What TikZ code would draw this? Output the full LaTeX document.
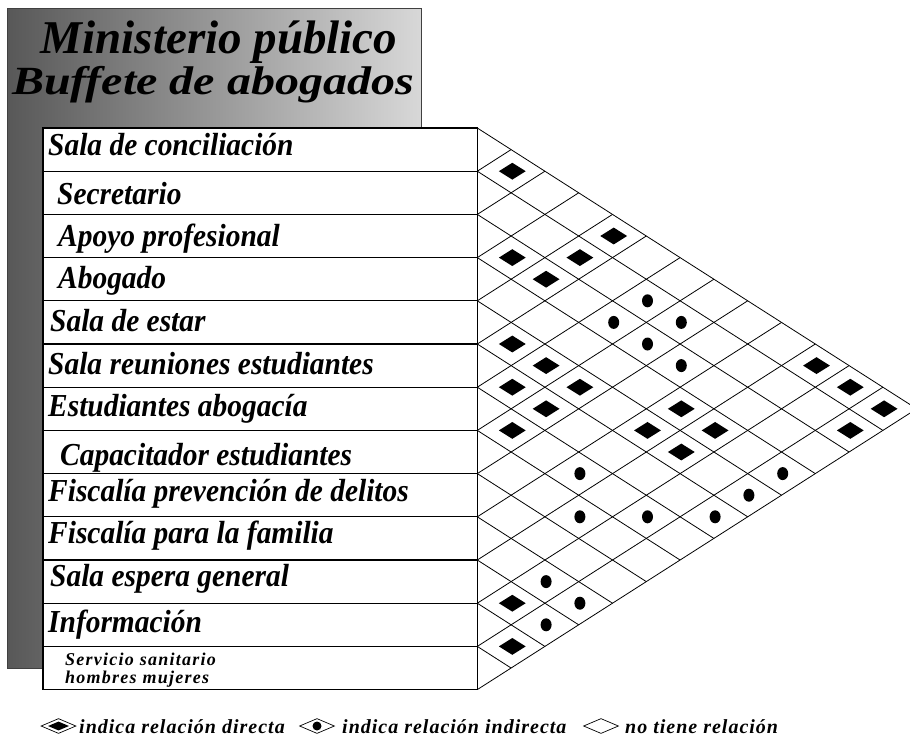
\documentclass[tikz,border=0pt]{standalone}
\usepackage{fontspec}
\usepackage{graphicx}
\setmainfont{Liberation Serif}
\newfontfamily\smallfam[LetterSpace=7]{Liberation Serif}
\newfontfamily\legfam[LetterSpace=5]{Liberation Serif}
\usetikzlibrary{shapes.geometric}
\newcommand{\rowfont}{\bfseries\itshape\fontsize{32}{34}\selectfont}
\newcommand{\titfont}{\bfseries\itshape\fontsize{47}{50}\selectfont}
\newcommand{\titfontb}{\bfseries\itshape\fontsize{40}{44}\selectfont}
\newcommand{\smfont}{\smallfam\bfseries\itshape\fontsize{18}{18}\selectfont}
\newcommand{\legfont}{\legfam\bfseries\itshape\fontsize{20}{22}\selectfont}
\newcommand{\rl}[1]{\scalebox{0.92}[1]{#1}}
\definecolor{gdark}{HTML}{585858}
\definecolor{glight}{HTML}{D8D8D8}
\begin{document}
\begin{tikzpicture}[x=1pt,y=-1pt,
  gridline/.style={line width=0.8pt,black},
  rowbox/.style={draw=black,line width=1.2pt,fill=white,minimum width=434.3pt,minimum height=43.2pt,inner sep=0pt},
  lbl/.style={anchor=base west,inner sep=0pt,font=\rowfont},
  dmark/.style={diamond,fill=black,minimum width=27pt,minimum height=17pt,inner sep=0pt},
  imark/.style={ellipse,fill=black,minimum width=11pt,minimum height=13pt,inner sep=0pt},
  legout/.style={diamond,draw=black,line width=0.7pt,minimum width=35pt,minimum height=15pt,inner sep=0pt},
  legin/.style={diamond,fill=black,minimum width=21pt,minimum height=9pt,inner sep=0pt},
  legdot/.style={circle,fill=black,minimum size=9pt,inner sep=0pt},
  legtxt/.style={anchor=base west,inner sep=0pt,font=\legfont}
]
\useasboundingbox (0,0) rectangle (910,740);
% title box
\shade[left color=gdark,right color=glight] (7.5,8.5) rectangle (421,668);
\draw[draw=black!75,line width=1pt] (7.5,8.5) rectangle (421,668);
\node[anchor=base,inner sep=0pt,font=\titfont] (t1) at (219,53) {Ministerio público};
\node[anchor=base,inner sep=0pt,font=\titfontb] (t2) at (213,94) {\scalebox{1.2}[1]{Buffete de abogados}};
% rows
\foreach \i in {0,...,12}{
  \node[rowbox] (r\i) at (260.15,{149.6+43.2*\i}) {};
}
\node[lbl] (l0) at (48,155) {\rl{Sala de conciliación}};
\node[lbl] (l1) at (57,204) {\rl{Secretario}};
\node[lbl] (l2) at (58,246) {\rl{Apoyo profesional}};
\node[lbl] (l3) at (58,288) {\rl{Abogado}};
\node[lbl] (l4) at (50,331) {\rl{Sala de estar}};
\node[lbl] (l5) at (48,374) {\rl{Sala reuniones estudiantes}};
\node[lbl] (l6) at (48,416) {\rl{Estudiantes abogacía}};
\node[lbl] (l7) at (60,465) {\rl{Capacitador estudiantes}};
\node[lbl] (l8) at (48,501) {\rl{Fiscalía prevención de delitos}};
\node[lbl] (l9) at (48,543) {\rl{Fiscalía para la familia}};
\node[lbl] (l10) at (50,586) {\rl{Sala espera general}};
\node[lbl] (l11) at (48,632) {\rl{Información}};
\node[anchor=base west,inner sep=0pt,font=\smfont] (l12a) at (65,665) {Servicio sanitario};
\node[anchor=base west,inner sep=0pt,font=\smfont] (l12b) at (65,683) {hombres mujeres};
% grid
\foreach \k in {0,...,13}{
  \coordinate (g\k) at (477.3,{128+43.2*\k});
  \draw[gridline] (g\k) -- ++({(13-\k)*33.8},{(13-\k)*21.6});
  \draw[gridline] (g\k) -- ++({\k*33.8},{-\k*21.6});
}
% direct relations
\foreach \i/\j in {0/1,0/4,2/3,1/4,2/4,4/5,4/6,5/6,4/7,5/7,6/7,3/9,4/9,3/10,4/10,0/10,0/11,0/12,1/12,10/11,11/12}{
  \node[dmark] (d\i-\j) at ({478.5+(\j-\i)*33.8},{149.6+(\i+\j)*21.6}) {};
}
% indirect relations
\foreach \i/\j in {1/6,2/6,1/7,2/7,2/8,6/9,3/12,4/12,7/10,6/11,5/12,9/11,9/12,10/12}{
  \node[imark] (i\i-\j) at ({478.5+(\j-\i)*33.8},{149.6+(\i+\j)*21.6}) {};
}
% legend
\node[legout] (s1) at (58.5,726) {};
\node[legin] (s1i) at (s1) {};
\node[legtxt] (tx1) at (79,733) {indica relación directa};
\node[legout] (s2) at (317,726) {};
\node[legdot] (s2i) at (s2) {};
\node[legtxt] (tx2) at (342,733) {indica relación indirecta};
\node[legout] (s3) at (601,726) {};
\node[legtxt] (tx3) at (625,733) {no tiene relación};
\end{tikzpicture}
\end{document}
